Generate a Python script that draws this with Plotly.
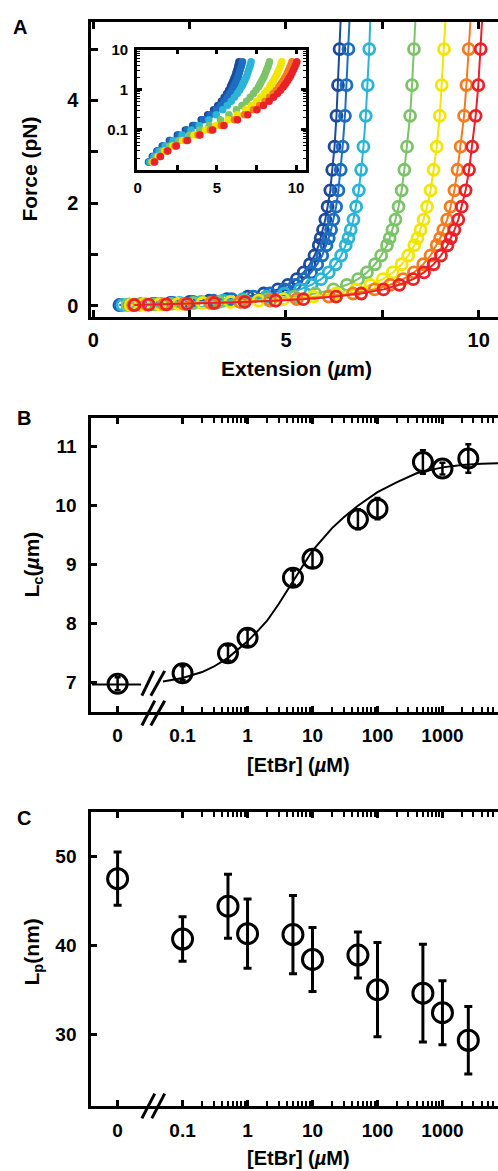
import plotly.graph_objects as go

# ---------------- Panel A data (force-extension curves) ----------------
force_pN = [0.016, 0.022, 0.03, 0.04, 0.055, 0.075, 0.1, 0.13, 0.18, 0.24, 0.32, 0.41,
            0.52, 0.65, 0.81, 0.98, 1.18, 1.32, 1.48, 1.68, 1.93, 2.25, 2.65, 3.1, 3.7, 4.3, 5.0]
ext_s1 = [0.68, 0.92, 1.21, 1.55, 2.00, 2.50, 3.01, 3.47, 4.01, 4.42, 4.79, 5.05, 5.28, 5.46,
          5.62, 5.74, 5.85, 5.90, 5.96, 6.02, 6.08, 6.15, 6.20, 6.26, 6.31, 6.35, 6.39]
ext_s2 = [0.71, 0.95, 1.25, 1.60, 2.07, 2.59, 3.12, 3.59, 4.15, 4.58, 4.96, 5.23, 5.46, 5.65,
          5.81, 5.94, 6.05, 6.11, 6.17, 6.23, 6.30, 6.36, 6.42, 6.47, 6.53, 6.57, 6.62]
ext_s3 = [0.76, 1.03, 1.35, 1.74, 2.24, 2.80, 3.37, 3.88, 4.49, 4.96, 5.37, 5.66, 5.91, 6.11,
          6.29, 6.43, 6.55, 6.62, 6.68, 6.75, 6.82, 6.89, 6.95, 7.01, 7.07, 7.12, 7.16]
ext_s4 = [0.89, 1.19, 1.57, 2.02, 2.60, 3.26, 3.92, 4.51, 5.22, 5.76, 6.23, 6.58, 6.87, 7.10,
          7.31, 7.47, 7.62, 7.69, 7.76, 7.84, 7.92, 8.00, 8.07, 8.14, 8.22, 8.27, 8.32]
ext_s5 = [0.97, 1.30, 1.72, 2.21, 2.84, 3.56, 4.29, 4.93, 5.71, 6.30, 6.82, 7.19, 7.51, 7.77,
          8.00, 8.17, 8.33, 8.41, 8.49, 8.57, 8.66, 8.75, 8.83, 8.91, 8.99, 9.04, 9.10]
ext_s6 = [1.04, 1.40, 1.84, 2.36, 3.05, 3.81, 4.59, 5.28, 6.11, 6.74, 7.30, 7.70, 8.04, 8.32,
          8.56, 8.75, 8.91, 9.00, 9.08, 9.18, 9.27, 9.37, 9.45, 9.53, 9.62, 9.68, 9.74]
ext_s7 = [1.07, 1.44, 1.90, 2.44, 3.14, 3.93, 4.73, 5.45, 6.30, 6.95, 7.53, 7.94, 8.30, 8.58,
          8.83, 9.02, 9.19, 9.28, 9.37, 9.47, 9.56, 9.66, 9.75, 9.83, 9.92, 9.99, 10.05]
fit_top_force = 5.6
fit_top_ext = [6.42, 6.65, 7.19, 8.36, 9.14, 9.79, 10.09]

series_ext = [ext_s1, ext_s2, ext_s3, ext_s4, ext_s5, ext_s6, ext_s7]
series_colors = ["#1d4a9c", "#1c6ec0", "#2ab4d8", "#7cc36a", "#f2e500", "#f47b20", "#eb2128"]

ext_ticks = [0, 2.5, 5, 7.5, 10]
ext_ticklabels = ["0", " ", "5", " ", "10"]
force_ticks = [0, 1, 2, 3, 4, 5]
force_ticklabels = ["0", " ", "2", " ", "4", " "]
inset_force_ticks = [0.1, 1, 10]
inset_force_ticklabels = ["0.1", "1", "10"]

# ---------------- Panel B / C data ----------------
etbr_uM = [0, 0.1, 0.5, 1, 5, 10, 50, 100, 500, 1000, 2500]
Lc_um = [6.98, 7.16, 7.50, 7.76, 8.78, 9.10, 9.77, 9.95, 10.74, 10.63, 10.80]
Lc_err = [0.11, 0.12, 0.13, 0.14, 0.12, 0.15, 0.17, 0.18, 0.20, 0.10, 0.24]
Lp_nm = [47.5, 40.7, 44.4, 41.3, 41.2, 38.4, 38.9, 35.0, 34.6, 32.4, 29.3]
Lp_err = [3.0, 2.5, 3.6, 3.9, 4.4, 3.6, 2.6, 5.3, 5.5, 3.6, 3.8]

fit_base_c = [0.004, 0.023]
fit_base_L = [6.97, 6.97]
fit_c = [0.05, 0.1, 0.2, 0.3, 0.5, 0.7, 1, 1.5, 2, 3, 5, 7, 10, 20, 30, 50, 100, 200, 400,
         1000, 2000, 4000, 8000]
fit_L = [7.02, 7.08, 7.18, 7.27, 7.42, 7.55, 7.70, 7.90, 8.05, 8.33, 8.72, 8.98, 9.24, 9.62,
         9.80, 10.00, 10.23, 10.40, 10.55, 10.65, 10.69, 10.71, 10.72]

zero_position = 0.01  # where "0" is drawn on the log axis
conc_ticks = [0.01, 0.1, 1, 10, 100, 1000]
conc_ticklabels = ["0", "0.1", "1", "10", "100", "1000"]

W, H = 498, 1171
FONT = "Liberation Sans, Arial, Helvetica, sans-serif"


def px_x(x):
    return x / W


def px_y(y):
    return 1 - y / H


etbr_plot = [zero_position if c == 0 else c for c in etbr_uM]

fig = go.Figure()

# Panel A main
for ext, col, top in zip(series_ext, series_colors, fit_top_ext):
    fig.add_trace(go.Scatter(x=ext + [top], y=force_pN + [fit_top_force], mode="lines",
                             line=dict(color=col, width=2), xaxis="x", yaxis="y",
                             showlegend=False, hoverinfo="skip"))
    fig.add_trace(go.Scatter(x=ext, y=force_pN, mode="markers",
                             marker=dict(symbol="circle-open", size=11, color=col,
                                         line=dict(color=col, width=2.8)),
                             xaxis="x", yaxis="y", showlegend=False))
# Panel A inset
for ext, col in zip(series_ext, series_colors):
    fig.add_trace(go.Scatter(x=ext, y=force_pN, mode="markers",
                             marker=dict(symbol="circle", size=7.5, color=col, line=dict(width=0)),
                             xaxis="x2", yaxis="y2", showlegend=False))

# Panel B
fig.add_trace(go.Scatter(x=fit_base_c, y=fit_base_L, mode="lines", line=dict(color="black", width=2),
                         xaxis="x3", yaxis="y3", showlegend=False))
fig.add_trace(go.Scatter(x=fit_c, y=fit_L, mode="lines", line=dict(color="black", width=2),
                         xaxis="x3", yaxis="y3", showlegend=False))
fig.add_trace(go.Scatter(x=etbr_plot, y=Lc_um, mode="markers",
                         error_y=dict(type="data", array=Lc_err, color="black", thickness=2.5, width=3),
                         marker=dict(symbol="circle-open", size=19, color="black",
                                     line=dict(color="black", width=3)),
                         xaxis="x3", yaxis="y3", showlegend=False))

# Panel C
fig.add_trace(go.Scatter(x=etbr_plot, y=Lp_nm, mode="markers",
                         error_y=dict(type="data", array=Lp_err, color="black", thickness=3, width=4),
                         marker=dict(symbol="circle-open", size=20, color="black",
                                     line=dict(color="black", width=3)),
                         xaxis="x4", yaxis="y4", showlegend=False))

tickfont = dict(family=FONT, size=19, color="black", weight="bold")
insetfont = dict(family=FONT, size=15, color="black", weight="bold")
common = dict(showline=True, linecolor="black", linewidth=3, showgrid=False, zeroline=False,
              ticks="inside", tickcolor="black", tickwidth=2.5)

minor_conc = [m * 10 ** e for e in range(-1, 4) for m in range(2, 10)]
minor_inset = [m * 10 ** e for e in range(-2, 1) for m in range(2, 10)]

fig.update_layout(
    width=W, height=H, margin=dict(l=0, r=0, t=0, b=0),
    paper_bgcolor="white", plot_bgcolor="white",
    xaxis=dict(domain=[px_x(88), 1], range=[-0.05, 10.5], anchor="y", mirror="ticks",
               ticklen=7, tickmode="array", tickvals=ext_ticks, ticktext=ext_ticklabels,
               tickfont=dict(family=FONT, size=20, color="black", weight="bold"),
               ticklabelstandoff=3, **common),
    yaxis=dict(domain=[px_y(310), px_y(13)], range=[-0.21, 5.53], anchor="x",
               ticklen=7, tickmode="array", tickvals=force_ticks, ticktext=force_ticklabels,
               tickfont=dict(family=FONT, size=20, color="black", weight="bold"),
               ticklabelstandoff=6, **common),
    xaxis2=dict(domain=[px_x(134), px_x(304)], range=[-0.05, 10.6], anchor="y2", mirror="allticks",
                ticklen=5, tickmode="array", tickvals=ext_ticks, ticktext=ext_ticklabels,
                tickfont=insetfont, ticklabelstandoff=2,
                **{**common, "linewidth": 2.5}),
    yaxis2=dict(domain=[px_y(162), px_y(41)], type="log", range=[-1.99, 1.0], anchor="x2",
                mirror="allticks", ticklen=5, tickmode="array", tickvals=inset_force_ticks,
                ticktext=inset_force_ticklabels, tickfont=insetfont, ticklabelstandoff=3,
                minor=dict(tickmode="array", tickvals=minor_inset, ticks="inside", ticklen=3,
                           tickwidth=1.2, tickcolor="black"),
                **{**common, "linewidth": 2.5}),
    xaxis3=dict(domain=[px_x(88), 1], type="log", range=[-2.405, 3.855], anchor="y3",
                mirror="allticks", ticklen=6, tickmode="array", tickvals=conc_ticks,
                ticktext=conc_ticklabels, tickfont=tickfont, ticklabelstandoff=5,
                minor=dict(tickmode="array", tickvals=minor_conc, ticks="inside", ticklen=5,
                           tickwidth=1.6, tickcolor="black"),
                **common),
    yaxis3=dict(domain=[px_y(708), px_y(412)], range=[6.51, 11.49], anchor="x3",
                ticklen=6, tickmode="array", tickvals=[7, 8, 9, 10, 11], tickfont=tickfont,
                ticklabelstandoff=8, **common),
    xaxis4=dict(domain=[px_x(88), 1], type="log", range=[-2.405, 3.855], anchor="y4",
                mirror="allticks", ticklen=6, tickmode="array", tickvals=conc_ticks,
                ticktext=conc_ticklabels, tickfont=tickfont, ticklabelstandoff=5,
                minor=dict(tickmode="array", tickvals=minor_conc, ticks="inside", ticklen=5,
                           tickwidth=1.6, tickcolor="black"),
                **common),
    yaxis4=dict(domain=[px_y(1106), px_y(809)], range=[21.84, 55.03], anchor="x4",
                ticklen=6, tickmode="array", tickvals=[30, 40, 50], tickfont=tickfont,
                ticklabelstandoff=8, **common),
)

# break marks "//"
breaks = [
    (139, 692, 151, 667), (148, 692, 162, 667),
    (139, 722, 152, 697), (148, 722, 162, 697),
    (139, 1118, 152, 1093), (149, 1118, 162, 1093),
]
for x0, y0, x1, y1 in breaks:
    fig.add_shape(type="line", xref="paper", yref="paper", x0=px_x(x0), y0=px_y(y0),
                  x1=px_x(x1), y1=px_y(y1), line=dict(color="black", width=3))


def ann(text, x, y, size=18, angle=0):
    fig.add_annotation(text=text, x=px_x(x), y=px_y(y), xref="paper", yref="paper",
                       showarrow=False, textangle=angle, xanchor="center", yanchor="middle",
                       font=dict(family=FONT, size=size, color="black", weight="bold"))


ann("A", 16, 18, 20)
ann("Force (pN)", 26, 161, 21, -90)
ann("Extension (<i>µ</i>m)", 295, 362, 21)
ann("B", 20, 412, 20)
ann("L<sub>c</sub>(<i>µ</i>m)", 29, 560, 21, -90)
ann("[EtBr] (<i>µ</i>M)", 297, 762, 20)
ann("C", 20, 815, 20)
ann("L<sub>p</sub>(nm)", 29, 950, 21, -90)
ann("[EtBr] (<i>µ</i>M)", 297, 1158, 20)

fig.write_html("out.html", config={"displayModeBar": False},
               post_script="document.body.style.margin='0';document.body.style.padding='0';"
                           "document.documentElement.style.overflow='hidden';")
